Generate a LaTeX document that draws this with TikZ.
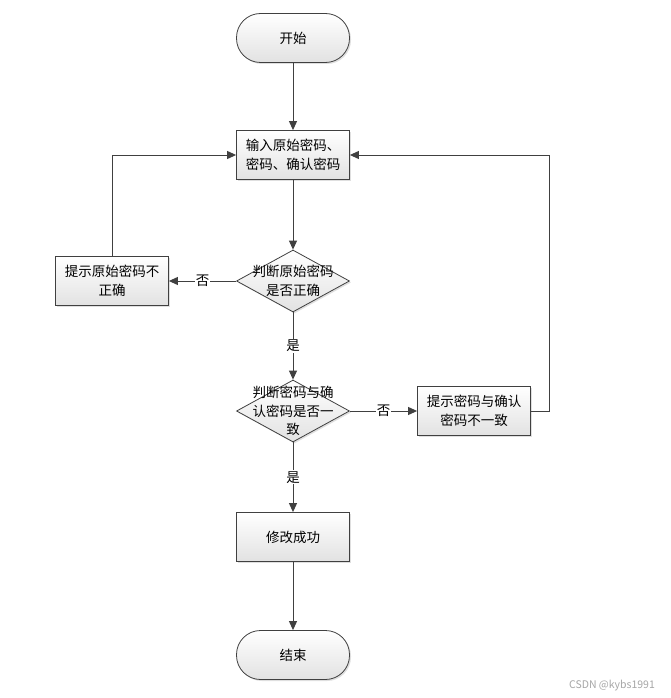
\documentclass[tikz,border=0pt]{standalone}
\usepackage{fontspec}
\setmainfont{Noto Sans CJK SC}
\usetikzlibrary{shapes.geometric,arrows.meta,shadows}
\definecolor{linegray}{HTML}{404040}
\definecolor{boxgray}{HTML}{E2E2E2}
\tikzset{
    base/.style={
        draw=linegray,
        line width=0.8pt,
        top color=white,
        bottom color=boxgray,
        drop shadow={opacity=0.25,shadow xshift=1.5pt,shadow yshift=-1.5pt},
        font=\fontsize{13.5}{19.5}\selectfont,
        align=center,
        inner sep=0pt
    },
    terminal/.style={
        base,
        rectangle,
        rounded corners=24pt,
        minimum width=113pt,
        minimum height=49pt
    },
    process/.style={
        base,
        rectangle,
        minimum width=113pt,
        minimum height=49pt
    },
    decision/.style={
        base,
        diamond,
        minimum width=113pt,
        minimum height=62pt
    },
    dtext/.style={
        align=center,
        font=\fontsize{13.5}{18.5}\selectfont,
        inner sep=0pt
    },
    flow/.style={
        draw=linegray,
        line width=1pt,
        -{Triangle[length=9pt,width=8pt]}
    },
    cond/.style={
        fill=white,
        inner sep=1pt,
        font=\fontsize{13.5}{15}\selectfont
    }
}

\begin{document}
\begin{tikzpicture}[x=1pt,y=-1pt]
\useasboundingbox[fill=white] (0,0) rectangle (670,698);
\node[terminal] (start) at (293,38) {开始};
\node[process] (input) at (293,155) {输入原始密码、\\密码、确认密码};
\node[decision,label={[dtext]center:判断原始密码\\是否正确}] (check1) at (293,281) {};
\node[process] (err1) at (112,281) {提示原始密码不\\正确};
\node[decision,label={[dtext]center:判断密码与确\\认密码是否一\\致}] (check2) at (293,411) {};
\node[process] (err2) at (474,411) {提示密码与确认\\密码不一致};
\node[process] (ok) at (293,537) {修改成功};
\node[terminal] (end) at (293,655) {结束};
\coordinate (turn) at (549,155);
% connectors
\draw[flow] (start) -- (input);
\draw[flow] (input) -- (check1);
\draw[flow] (check1) -- node[cond] {否} (err1);
\draw[flow] (err1.north) |- (input.west);
\draw[flow] (check1) -- node[cond] {是} (check2);
\draw[flow] (check2) -- node[cond] {否} (err2);
\draw[flow] (err2.east) -| (turn) -- (input.east);
\draw[flow] (check2) -- node[cond] {是} (ok);
\draw[flow] (ok) -- (end);
\node[text=gray!70,font=\fontsize{10.5}{12}\selectfont] (watermark) at (612,686) {CSDN @kybs1991};
\end{tikzpicture}
\end{document}
